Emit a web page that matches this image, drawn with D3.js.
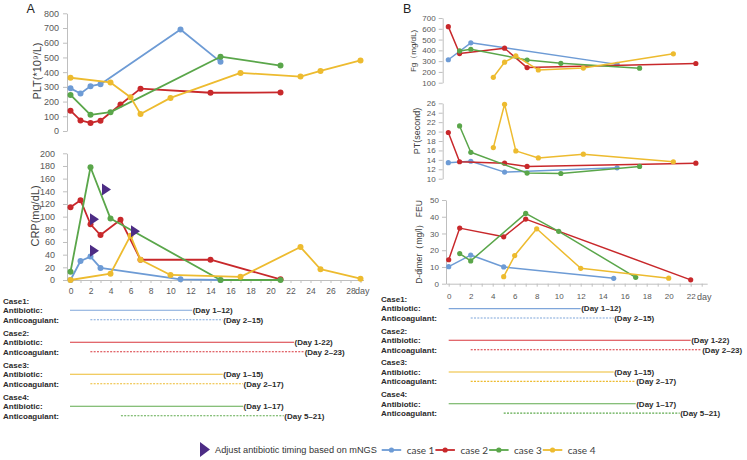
<!DOCTYPE html>
<html><head><meta charset="utf-8">
<script src="https://cdn.jsdelivr.net/npm/d3@7"></script>
<style>body{margin:0;background:#fff}svg{display:block}</style>
</head><body><svg id="c" width="747" height="460"></svg>
<script>
// ---------------- data ----------------
const caseNames = ["case 1","case 2","case 3","case 4"];
const caseColors = ["#6D9BD5","#C8282B","#5AA64A","#EDBB2F"];

// Panel A: PLT (*10^9/L), [day, value]
const pltCase1 = [[0,290],[1,255],[2,305],[3,318],[11,690],[15,470]];
const pltCase2 = [[0,138],[1,72],[2,55],[3,70],[5,180],[7,288],[14,260],[21,262]];
const pltCase3 = [[0,245],[2,110],[4,128],[15,505],[21,445]];
const pltCase4 = [[0,362],[4,330],[6,230],[7,115],[10,225],[17,395],[23,370],[25,408],[29,480]];
// Panel A: CRP (mg/dL)
const crpCase1 = [[0,0],[1,30],[2,37],[3,19],[11,1],[15,0]];
const crpCase2 = [[0,115],[1,126],[2,88],[3,71],[5,95],[7,32],[14,32],[21,1]];
const crpCase3 = [[0,13],[2,178],[4,97],[15,0],[21,0]];
const crpCase4 = [[0,0],[4,10],[6,70],[7,32],[10,8],[17,5],[23,52],[25,17],[29,2]];
// mNGS antibiotic adjustment markers [day, CRP]
const mngsMarks = [[3.6,143],[2.4,96],[2.4,46],[6.5,77]];

// Panel B: Fg (mg/dL)
const fgCase1 = [[0,313],[2,470],[15,270]];
const fgCase2 = [[0,620],[1,370],[5,420],[7,240],[22,278]];
const fgCase3 = [[1,395],[2,410],[7,310],[10,280],[17,235]];
const fgCase4 = [[4,150],[5,290],[6,348],[8,218],[12,236],[20,368]];
// PT (second)
const ptCase1 = [[0,13.4],[2,13.7],[5,11.4],[15,12.3]];
const ptCase2 = [[0,19.8],[1,13.6],[5,13.3],[7,12.6],[22,13.3]];
const ptCase3 = [[1,21.2],[2,15.6],[7,11.2],[10,11.1],[17,12.6]];
const ptCase4 = [[4,16.6],[5,25.8],[6,15.9],[8,14.4],[12,15.2],[20,13.6]];
// D-dimer (mg/l FEU)
const ddCase1 = [[0,10.2],[2,17.1],[5,10],[15,3.2]];
const ddCase2 = [[0,14.3],[1,33.2],[5,28],[7,38.6],[22,2.3]];
const ddCase3 = [[1,18],[2,13.6],[7,42],[10,31.3],[17,3.8]];
const ddCase4 = [[5,4.2],[6,16.8],[8,32.8],[12,9.2],[20,3.3]];

// Tick labels
const pltTicks = [0,100,200,300,400,500,600,700,800];
const crpTicks = [0,20,40,60,80,100,120,140,160,180,200];
const fgTicks = [100,200,300,400,500,600,700];
const ptTicks = [10,12,14,16,18,20,22,24,26];
const ddTicks = [0,10,20,30,40,50];
const dayTicksA = [0,2,4,6,8,10,12,14,16,18,20,22,24,26,28];
const dayTicksB = [0,2,4,6,8,10,12,14,16,18,20,22];

// Treatment timeline
const tlCases = ["Case1:","Case2:","Case3:","Case4:"];
const tlColors = ["#7FA6DA","#D8363C","#EDBB2F","#5FAA4E"];
const antibioticDays = [[0,12],[0,22],[0,15],[0,17]];
const antibioticLabels = ["(Day 1–12)","(Day 1-22)","(Day 1–15)","(Day 1–17)"];
const anticoagDays = [[2,15],[2,23],[2,17],[5,21]];
const anticoagLabels = ["(Day 2–15)","(Day 2–23)","(Day 2–17)","(Day 5–21)"];
const legendText = "Adjust antibiotic timing based on mNGS";

// ---------------- drawing ----------------
const svg = d3.select("#c");
const FONT = "'Liberation Sans', Arial, sans-serif";
const AX = "#BFBFBF", TXT = "#595959", MNGS = "#4D2C85";

// scales
const xA = d3.scaleLinear().domain([-0.35, 29.3]).range([67, 363.5]);
const yPLT = d3.scaleLinear().domain([0, 800]).range([131, 13.3]);
const yCRP = d3.scaleLinear().domain([0, 200]).range([280, 153.3]);
const xB = d3.scaleLinear().domain([-0.5, 23]).range([442.7, 707.1]);
const xDD = d3.scaleLinear().domain([-0.245, 23.5]).range([446, 707.2]);
const yFg = d3.scaleLinear().domain([100, 700]).range([82.7, 18]);
const yPT = d3.scaleLinear().domain([10, 26]).range([178.7, 103.3]);
const yDD = d3.scaleLinear().domain([0, 50]).range([283.7, 200]);
const xTL = d3.scaleLinear().domain([0, 22]).range([70, 294]);

function yAxis(x, scale, ticks, fs, pad) {
  const g = svg.append("g").attr("transform", `translate(${x},0)`)
    .call(d3.axisLeft(scale).tickValues(ticks).tickSize(4).tickSizeOuter(0).tickPadding(pad));
  g.select(".domain").attr("stroke", AX);
  g.selectAll(".tick line").attr("stroke", AX);
  g.selectAll("text").attr("fill", TXT).style("font-family", FONT).style("font-size", fs + "px");
  return g;
}
function xAxis(y, scale, ticks, labelTicks, fs, ly) {
  const g = svg.append("g").attr("transform", `translate(0,${y})`)
    .call(d3.axisBottom(scale).tickValues(ticks).tickSize(3).tickSizeOuter(0)
      .tickFormat(d => labelTicks.includes(d) ? d : ""));
  g.select(".domain").attr("stroke", AX);
  g.selectAll(".tick line").attr("stroke", AX);
  g.selectAll("text").attr("fill", TXT).attr("y", ly).attr("dy", "0.35em")
    .style("font-family", FONT).style("font-size", fs + "px");
  return g;
}
function series(data, x, y, color, r, w) {
  const g = svg.append("g");
  g.append("path").datum(data)
    .attr("d", d3.line().x(d => x(d[0])).y(d => y(d[1])))
    .attr("fill", "none").attr("stroke", color).attr("stroke-width", w)
    .attr("stroke-linejoin", "round");
  g.selectAll("circle").data(data).join("circle")
    .attr("cx", d => x(d[0])).attr("cy", d => y(d[1])).attr("r", r).attr("fill", color);
}
function vLabel(text, x, y, fs) {
  svg.append("text").attr("transform", `translate(${x},${y}) rotate(-90)`)
    .attr("text-anchor", "middle").attr("fill", "#404040")
    .style("font-family", FONT).style("font-size", fs + "px").text(text);
}

// Panel letters
svg.append("text").attr("x", 26.5).attr("y", 13).style("font-family", FONT).style("font-size", "12.5px").attr("fill", "#222").text("A");
svg.append("text").attr("x", 403).attr("y", 12.5).style("font-family", FONT).style("font-size", "12.5px").attr("fill", "#222").text("B");

// ---- Panel A ----
yAxis(67, yPLT, pltTicks, 9, 4);
vLabel("PLT(*10⁹/L)", 41, 71, 11);
[pltCase1, pltCase2, pltCase3, pltCase4].forEach((d, i) => series(d, xA, yPLT, caseColors[i], 3, 1.8));

yAxis(67, yCRP, crpTicks, 9, 8);
xAxis(280, xA, d3.range(0, 30), dayTicksA, 8.5, 11);
svg.append("text").attr("x", 355).attr("y", 294).attr("fill", TXT)
  .style("font-family", FONT).style("font-size", "9px").text("day");
vLabel("CRP(mg/dL)", 39, 216, 11);
[crpCase1, crpCase2, crpCase3, crpCase4].forEach((d, i) => series(d, xA, yCRP, caseColors[i], 3, 1.8));

const tri = (cx, cy, w, h) => `M${cx - w / 2},${cy - h / 2}L${cx + w / 2},${cy}L${cx - w / 2},${cy + h / 2}Z`;
svg.append("g").selectAll("path").data(mngsMarks).join("path")
  .attr("d", d => tri(xA(d[0]), yCRP(d[1]), 9, 12)).attr("fill", MNGS);

// ---- Panel B ----
yAxis(442.7, yFg, fgTicks, 8, 3);
vLabel("Fg（mg/dL)", 416, 51, 8);
[fgCase1, fgCase2, fgCase3, fgCase4].forEach((d, i) => series(d, xB, yFg, caseColors[i], 2.6, 1.5));

yAxis(442.7, yPT, ptTicks, 8, 3);
vLabel("PT(second)", 420, 131, 9);
[ptCase1, ptCase2, ptCase3, ptCase4].forEach((d, i) => series(d, xB, yPT, caseColors[i], 2.6, 1.5));

yAxis(446, yDD, ddTicks, 8, 3);
xAxis(283.7, xDD, d3.range(0, 24), dayTicksB, 8, 13);
svg.append("text").attr("x", 697).attr("y", 300).attr("fill", TXT)
  .style("font-family", FONT).style("font-size", "9px").text("day");
vLabel("D-dimer（mg/l） FEU", 422, 242, 8.5);
[ddCase1, ddCase2, ddCase3, ddCase4].forEach((d, i) => series(d, xDD, yDD, caseColors[i], 2.6, 1.5));

// ---- Treatment timelines ----
function timeline(x0, scale, top, step) {
  const g = svg.append("g").style("font-family", FONT).style("font-size", "8px")
    .style("font-weight", "bold").attr("fill", "#2b2b2b");
  tlCases.forEach((c, i) => {
    const yc = top + i * step, ya = yc + 9.6, yb = yc + 19;
    g.append("text").attr("x", x0).attr("y", yc).attr("dy", "0.35em").text(c);
    g.append("text").attr("x", x0).attr("y", ya).attr("dy", "0.35em").text("Antibiotic:");
    g.append("text").attr("x", x0).attr("y", yb).attr("dy", "0.35em").text("Anticoagulant:");
    const a = antibioticDays[i], b = anticoagDays[i];
    g.append("line").attr("x1", scale(a[0])).attr("x2", scale(a[1])).attr("y1", ya).attr("y2", ya)
      .attr("stroke", tlColors[i]).attr("stroke-width", 1.1);
    g.append("text").attr("x", scale(a[1]) + 0.5).attr("y", ya).attr("dy", "0.35em").text(antibioticLabels[i]);
    g.append("line").attr("x1", scale(b[0])).attr("x2", scale(b[1])).attr("y1", yb).attr("y2", yb)
      .attr("stroke", tlColors[i]).attr("stroke-width", 1.1).attr("stroke-dasharray", "2,1.3");
    g.append("text").attr("x", scale(b[1]) + 0.5).attr("y", yb).attr("dy", "0.35em").text(anticoagLabels[i]);
  });
}
timeline(3, xTL, 300.7, 32);
timeline(381, xDD, 299, 31.7);

// ---- Legend ----
svg.append("path").attr("d", tri(205, 449.5, 10, 15)).attr("fill", MNGS);
svg.append("text").attr("x", 215).attr("y", 449.5).attr("dy", "0.35em").attr("fill", "#333")
  .style("font-family", FONT).style("font-size", "9.2px").text(legendText);
const lg = svg.append("g");
caseNames.forEach((n, i) => {
  const x0 = 381.7 + i * 53.7;
  lg.append("line").attr("x1", x0).attr("x2", x0 + 19.5).attr("y1", 450).attr("y2", 450)
    .attr("stroke", caseColors[i]).attr("stroke-width", 1.8);
  lg.append("circle").attr("cx", x0 + 9.75).attr("cy", 450).attr("r", 2.6).attr("fill", caseColors[i]);
  lg.append("text").attr("x", x0 + 25).attr("y", 450).attr("dy", "0.35em").attr("fill", "#404040")
    .style("font-family", "Lato, 'Liberation Sans', sans-serif").style("font-size", "10px").text(n);
});
</script></body></html>
